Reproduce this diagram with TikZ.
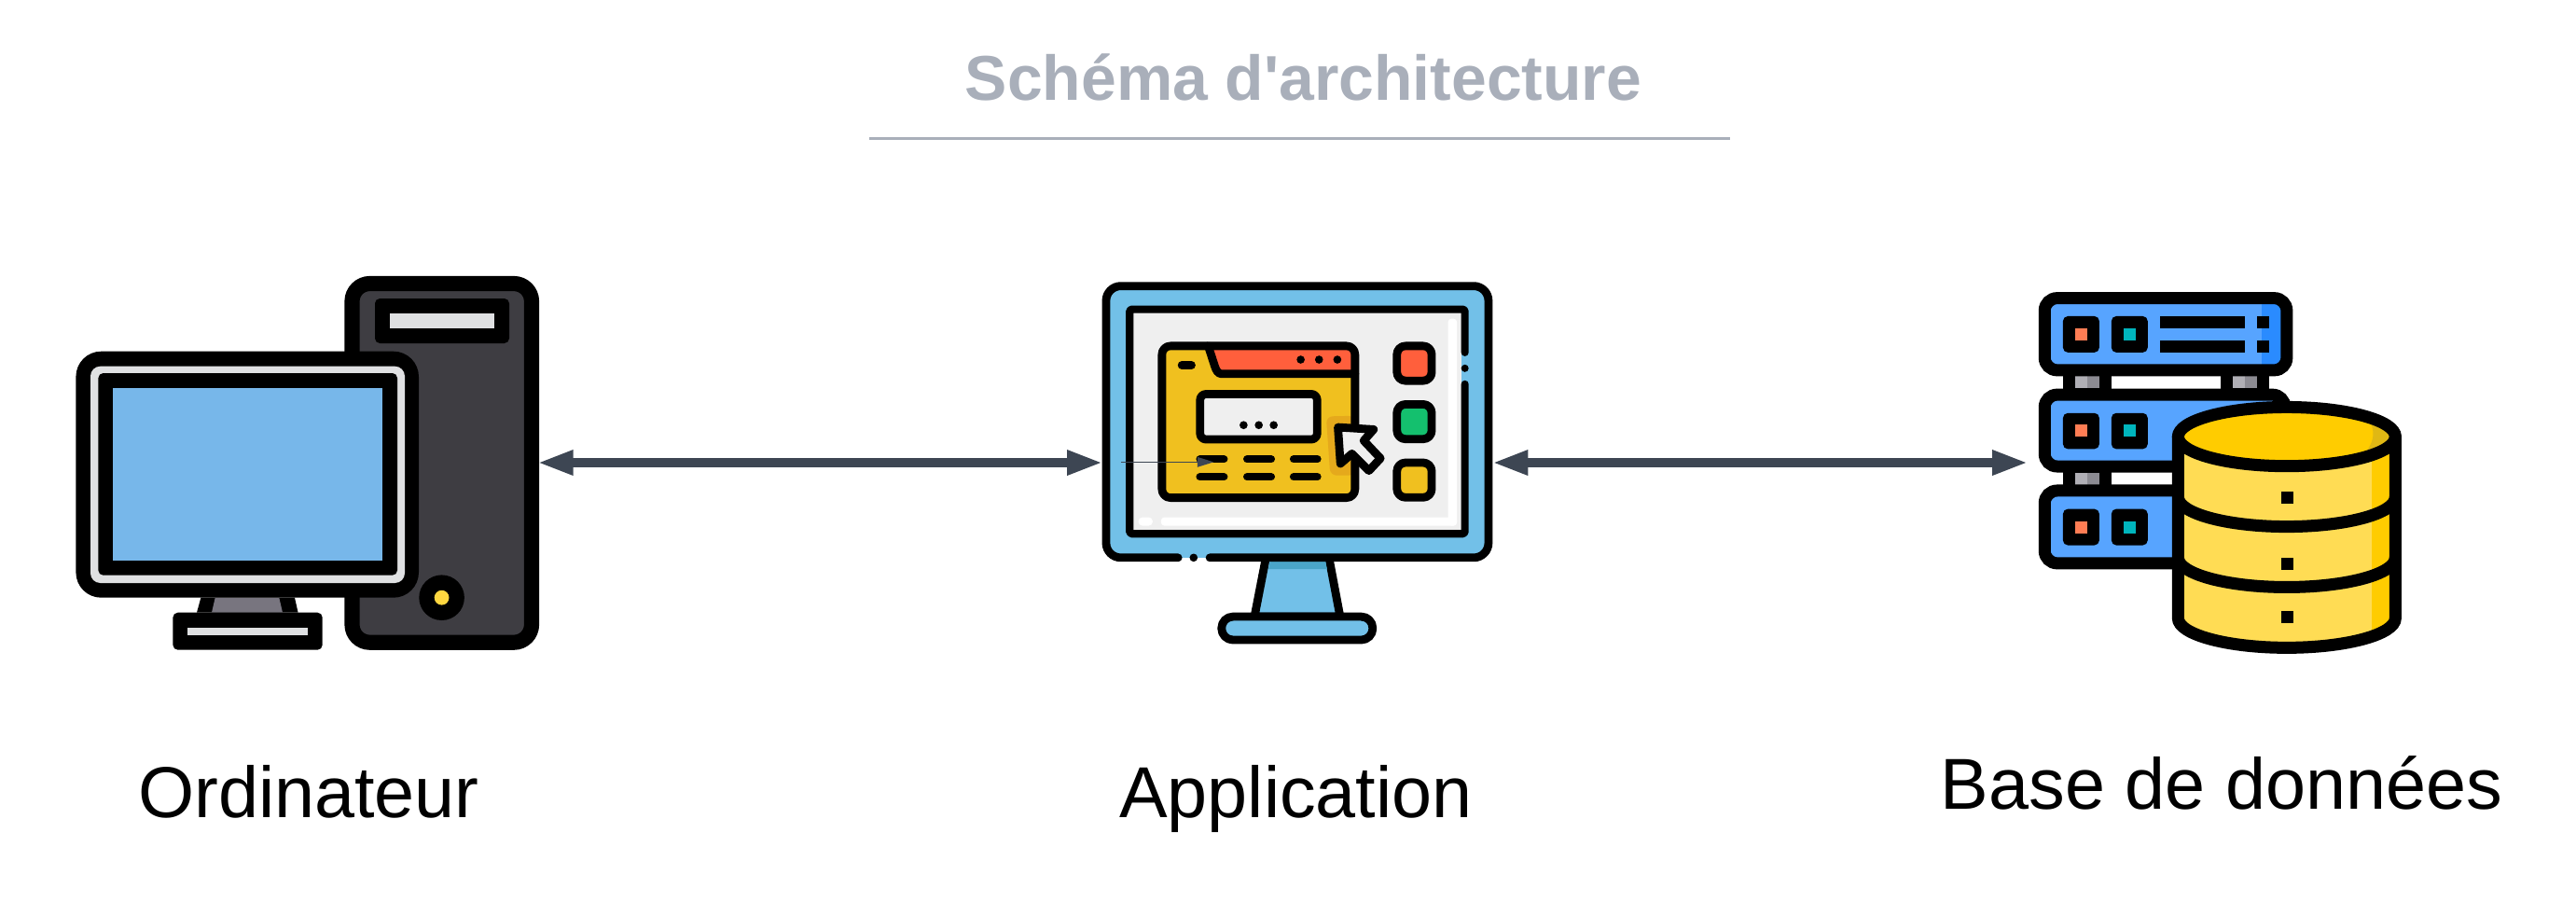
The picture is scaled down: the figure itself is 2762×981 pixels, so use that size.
\documentclass[tikz,border=0pt]{standalone}
\usepackage{fontspec}
\setmainfont{Liberation Sans}
\usetikzlibrary{
  arrows.meta               % pointes Triangle
}
\definecolor{gristitre}{HTML}{A9AFBA}
\definecolor{ardoise}{HTML}{3D4653}
\definecolor{tour}{HTML}{3E3D42}
\definecolor{clair}{HTML}{DFE0E2}
\definecolor{ecranpc}{HTML}{77B7EA}
\definecolor{piedpc}{HTML}{78757F}
\definecolor{jaunepc}{HTML}{FFD740}
\definecolor{bleuapp}{HTML}{72C0E8}
\definecolor{ombreapp}{HTML}{4AA5C8}
\definecolor{fondapp}{HTML}{EFEFEF}
\definecolor{orapp}{HTML}{F0C01F}
\definecolor{ombreor}{HTML}{E5A91C}
\definecolor{rougeapp}{HTML}{FF5F3C}
\definecolor{vertapp}{HTML}{14C06E}
\definecolor{bleuserv}{HTML}{57A4FF}
\definecolor{bleuserv2}{HTML}{2A8BFF}
\definecolor{oranged}{HTML}{FF7D54}
\definecolor{sarcelle}{HTML}{00B5BD}
\definecolor{gris1}{HTML}{B0AFB5}
\definecolor{gris2}{HTML}{8C8B92}
\definecolor{jaunecyl}{HTML}{FFDC54}
\definecolor{orcyl}{HTML}{FFCC00}
\definecolor{ombrecyl}{HTML}{E0B814}
\tikzset{
  titre/.style={font=\fontsize{19.3}{23}\selectfont\bfseries, text=gristitre, anchor=base, inner sep=0pt},
  etiquette/.style={font=\fontsize{22}{26}\selectfont, text=black, anchor=base, inner sep=0pt},
  filet/.style={draw=gristitre, line width=0.6pt},
  fleche/.style={draw=ardoise, line width=3pt, {Triangle[length=11pt,width=7pt]}-{Triangle[length=11pt,width=7pt]}},
  tracepc/.style={draw=black, line width=4.6pt},
  traceapp/.style={draw=black, line width=2.5pt, line cap=round, line join=round},
  tracebd/.style={draw=black, line width=3.7pt}
}

\begin{document}
\begin{tikzpicture}[x=0.01cm, y=-0.01cm]
  \useasboundingbox (0,0) rectangle (2762,981);

  % === Titre et filet ===
  \node[titre] (schema) at (1397.5,107) {Schéma d\textquotesingle architecture};
  \coordinate (filetG) at (932,148.5);
  \coordinate (filetD) at (1855,148.5);
  \draw[filet] (filetG) -- (filetD);

  % === Ordinateur : tour ===
  \draw[tracepc, fill=tour, rounded corners=5.4pt] (377.5,304) rectangle (570,688.7);
  \fill[black, rounded corners=1.5pt] (402,320) rectangle (546,368);
  \fill[clair] (417.5,336) rectangle (530,352);
  \fill[black] (473.6,640.7) circle (24.3);
  \fill[jaunepc] (473.6,640.7) circle (7.9);

  % === Ordinateur : pied ===
  \fill[black] (215.4,640.7) -- (316,640.7) -- (319.6,656.7) -- (211,656.7) -- cycle;
  \fill[piedpc] (230.7,640.7) -- (299.3,640.7) -- (303,656.7) -- (227,656.7) -- cycle;
  \fill[black, rounded corners=1.5pt] (185.4,656.7) rectangle (345.7,696.7);
  \fill[clair] (201,672.7) rectangle (329.6,680.7);

  % === Ordinateur : moniteur ===
  \fill[black, rounded corners=7.7pt] (81.4,376.7) rectangle (449,640.7);
  \fill[clair, rounded corners=3pt] (97,392.7) rectangle (434,625);
  \fill[black, rounded corners=1.5pt] (105.4,400) rectangle (426,616.7);
  \fill[ecranpc] (121,416) rectangle (409.6,600.7);

  % === Application : pied et socle ===
  \begin{scope}[shift={(1160,290)}, x=0.003333cm, y=-0.003333cm]
    \draw[traceapp, fill=bleuapp, line cap=butt] (593,925) -- (556,1115) -- (832,1115) -- (796,925);
    \fill[ombreapp] (606,938) -- (785,938) -- (790,962) -- (601,962) -- cycle;
    \draw[traceapp, fill=bleuapp, rounded corners=3.5pt] (450,1115) rectangle (937,1190);

    % boitier, contour ouvert en bas
    \fill[bleuapp, rounded corners=4.5pt] (78,50) rectangle (1310,925);
    \draw[traceapp, rounded corners=4.5pt] (310,925) -- (78,925) -- (78,50) -- (1310,50) -- (1310,925) -- (412,925);
    \fill[black] (360,925) circle (13);

    % ecran, contour ouvert a droite
    \fill[fondapp] (154,125) rectangle (1222,848);
    \fill[white, rounded corners=1pt] (1180,155) rectangle (1208,822);
    \fill[white, rounded corners=1pt] (255,795) rectangle (1208,822);
    \fill[white, rounded corners=1.2pt] (182,795) rectangle (228,822);
    \draw[traceapp, line width=2.3pt, rounded corners=0.5pt] (1234,264) -- (1234,125) -- (154,125) -- (154,848) -- (1234,848) -- (1234,366);
    \fill[black] (1234,315) circle (12);

    % fenetre jaune
    \fill[orapp, rounded corners=2.6pt] (258,243) rectangle (880,732);
    \fill[ombreor, rounded corners=2pt] (880,468) -- (787,470) -- (800,660) -- (880,660) -- cycle;
    \fill[rougeapp] (407,243) -- (880,243) -- (880,333) -- (450,333) .. controls (438,333) and (432,320) .. (428,308) -- cycle;
    \draw[traceapp] (407,243) -- (428,308) .. controls (432,320) and (438,333) .. (450,333) -- (880,333);
    \draw[traceapp, rounded corners=2.6pt] (258,243) rectangle (880,732);
    \fill[black] (705,287) circle (13);
    \fill[black] (764,287) circle (13);
    \fill[black] (823,287) circle (13);
    \draw[traceapp] (322,305) -- (353,305);

    % cadre et lignes de la fenetre
    \draw[traceapp, fill=fondapp, rounded corners=1.8pt] (381,398) rectangle (758,544);
    \fill[black] (521,498) circle (13);
    \fill[black] (570,498) circle (13);
    \fill[black] (618,498) circle (13);
    \draw[traceapp, line width=2.3pt] (380,608) -- (458,608);
    \draw[traceapp, line width=2.3pt] (532,608) -- (610,608);
    \draw[traceapp, line width=2.3pt] (682,608) -- (759,608);
    \draw[traceapp, line width=2.3pt] (380,665) -- (458,665);
    \draw[traceapp, line width=2.3pt] (532,665) -- (610,665);
    \draw[traceapp, line width=2.3pt] (682,665) -- (759,665);

    % curseur
    \draw[traceapp, fill=fondapp] (825,505) -- (940,512) -- (908,548) -- (962,605) -- (925,645) -- (870,590) -- (833,622) -- cycle;

    % boutons
    \draw[traceapp, fill=rougeapp, rounded corners=2.6pt] (1015,243) rectangle (1127,355);
    \draw[traceapp, fill=vertapp, rounded corners=2.6pt] (1015,431) rectangle (1127,543);
    \draw[traceapp, fill=orapp, rounded corners=2.6pt] (1015,619) rectangle (1127,731);

    % fine fleche sur la fenetre
    \coordinate (finDepart) at (126,617);
    \coordinate (finArrivee) at (425,617);
    \draw[draw=ardoise, line width=0.35pt, -{Triangle[length=5pt,width=3pt]}] (finDepart) -- (finArrivee);
  \end{scope}

  % === Base de donnees : serveurs ===
  \begin{scope}[shift={(2160,300)}, x=0.003333cm, y=-0.003333cm]
    % entretoises
    \fill[black] (156,291) rectangle (312,370);
    \fill[gris1] (195,310) rectangle (234,350);
    \fill[gris2] (234,310) rectangle (273,350);
    \fill[black] (663,291) rectangle (819,370);
    \fill[gris1] (702,310) rectangle (741,350);
    \fill[gris2] (741,310) rectangle (780,350);
    \fill[black] (156,601) rectangle (312,679);
    \fill[gris1] (195,621) rectangle (234,660);
    \fill[gris2] (234,621) rectangle (273,660);

    % boitiers
    \fill[bleuserv, rounded corners=3.8pt] (97,59) rectangle (877,291);
    \fill[bleuserv2] (797,70) rectangle (870,280);
    \draw[tracebd, rounded corners=3.8pt] (97,59) rectangle (877,291);
    \draw[tracebd, fill=bleuserv, rounded corners=3.8pt] (97,370) rectangle (871,601);
    \draw[tracebd, fill=bleuserv, rounded corners=3.8pt] (97,679) rectangle (871,913);

    % voyants
    \fill[black, rounded corners=1.5pt] (156,117) rectangle (273,234);
    \fill[oranged] (195,156) rectangle (234,195);
    \fill[black, rounded corners=1.5pt] (312,117) rectangle (429,234);
    \fill[sarcelle] (351,156) rectangle (390,195);
    \fill[black, rounded corners=1.5pt] (156,429) rectangle (273,545);
    \fill[oranged] (195,467) rectangle (234,506);
    \fill[black, rounded corners=1.5pt] (312,429) rectangle (429,545);
    \fill[sarcelle] (351,467) rectangle (390,506);
    \fill[black, rounded corners=1.5pt] (156,738) rectangle (273,855);
    \fill[oranged] (195,777) rectangle (234,816);
    \fill[black, rounded corners=1.5pt] (312,738) rectangle (429,855);
    \fill[sarcelle] (351,777) rectangle (390,816);

    % lignes du premier serveur
    \fill[black] (468,117) rectangle (741,156);
    \fill[black] (468,195) rectangle (741,234);
    \fill[black] (780,117) rectangle (819,156);
    \fill[black] (780,195) rectangle (819,234);

    % === Cylindre ===
    \fill[jaunecyl] (527,505) -- (527,1090) .. controls (527,1142) and (684,1185) .. (877,1185) .. controls (1070,1185) and (1227,1142) .. (1227,1090) -- (1227,505) -- cycle;
    \begin{scope}
      \clip (527,505) -- (527,1090) .. controls (527,1142) and (684,1185) .. (877,1185) .. controls (1070,1185) and (1227,1142) .. (1227,1090) -- (1227,505) -- cycle;
      \fill[orcyl] (1150,505) rectangle (1230,1190);
    \end{scope}
    \fill[orcyl] (527,505) .. controls (527,453) and (684,410) .. (877,410) .. controls (1070,410) and (1227,453) .. (1227,505) .. controls (1227,558) and (1070,600) .. (877,600) .. controls (684,600) and (527,558) .. (527,505) -- cycle;
    \begin{scope}
      \clip (527,505) .. controls (527,453) and (684,410) .. (877,410) .. controls (1070,410) and (1227,453) .. (1227,505) .. controls (1227,558) and (1070,600) .. (877,600) .. controls (684,600) and (527,558) .. (527,505) -- cycle;
      \fill[ombrecyl] (1120,430) .. controls (1170,470) and (1170,530) .. (1100,585) -- (1240,585) -- (1240,430) -- cycle;
    \end{scope}
    \draw[tracebd] (527,505) .. controls (527,453) and (684,410) .. (877,410) .. controls (1070,410) and (1227,453) .. (1227,505) .. controls (1227,558) and (1070,600) .. (877,600) .. controls (684,600) and (527,558) .. (527,505) -- cycle;
    \draw[tracebd, line cap=round] (527,505) -- (527,1090) .. controls (527,1142) and (684,1185) .. (877,1185) .. controls (1070,1185) and (1227,1142) .. (1227,1090) -- (1227,505);
    \draw[tracebd] (527,700) .. controls (527,752) and (684,795) .. (877,795) .. controls (1070,795) and (1227,752) .. (1227,700);
    \draw[tracebd] (527,895) .. controls (527,947) and (684,990) .. (877,990) .. controls (1070,990) and (1227,947) .. (1227,895);
    \fill[black] (858,681) rectangle (897,720);
    \fill[black] (858,894) rectangle (897,933);
    \fill[black] (858,1068) rectangle (897,1107);
  \end{scope}

  % === Fleches entre les trois blocs ===
  \coordinate (pcDroite) at (576,496);
  \coordinate (appGauche) at (1182.7,496);
  \coordinate (appDroite) at (1599.7,496);
  \coordinate (bdGauche) at (2174.7,496);
  \draw[fleche] (pcDroite) -- (appGauche);
  \draw[fleche] (appDroite) -- (bdGauche);

  % === Etiquettes ===
  \node[etiquette] (ordinateur) at (331,876) {Ordinateur};
  \node[etiquette] (application) at (1389.5,876) {Application};
  \node[etiquette] (donnees) at (2382,867) {Base de données};
\end{tikzpicture}
\end{document}
